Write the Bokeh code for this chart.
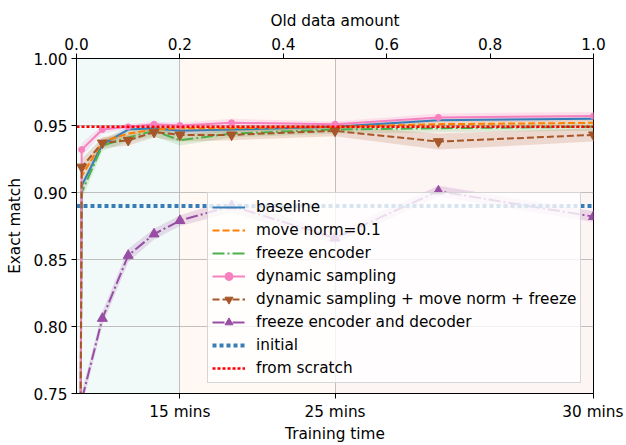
from bokeh.plotting import figure
from bokeh.models import (LinearAxis, FixedTicker, PrintfTickFormatter, BoxAnnotation,
                          Legend, LegendItem, Range1d)
from bokeh.embed import file_html
from bokeh.resources import INLINE

# ---------------- data ----------------
old_data = [0.0, 0.01, 0.05, 0.1, 0.15, 0.2, 0.3, 0.5, 0.7, 1.0]

baseline      = [0.0, 0.905, 0.936, 0.947, 0.948, 0.946, 0.947, 0.949, 0.954, 0.955]
move_norm     = [0.0, 0.912, 0.938, 0.944, 0.947, 0.948, 0.948, 0.949, 0.951, 0.952]
freeze_enc    = [0.0, 0.900, 0.935, 0.941, 0.946, 0.939, 0.944, 0.947, 0.948, 0.949]
dyn_sampling  = [0.0, 0.932, 0.947, 0.949, 0.951, 0.950, 0.952, 0.951, 0.956, 0.957]
dyn_mn_freeze = [0.0, 0.919, 0.937, 0.939, 0.945, 0.943, 0.943, 0.946, 0.938, 0.943]
freeze_enc_dec = [0.0, 0.745, 0.806, 0.853, 0.869, 0.879, 0.890, 0.866, 0.901, 0.882]

baseline_std      = [0.0, 0.004, 0.003, 0.002, 0.002, 0.003, 0.002, 0.002, 0.002, 0.002]
move_norm_std     = [0.0, 0.004, 0.003, 0.002, 0.002, 0.002, 0.002, 0.002, 0.002, 0.002]
freeze_enc_std    = [0.0, 0.005, 0.004, 0.003, 0.004, 0.004, 0.003, 0.003, 0.003, 0.003]
dyn_sampling_std  = [0.0, 0.005, 0.003, 0.002, 0.002, 0.002, 0.003, 0.002, 0.003, 0.003]
dyn_mn_freeze_std = [0.0, 0.006, 0.004, 0.004, 0.004, 0.005, 0.004, 0.004, 0.006, 0.005]
freeze_enc_dec_std = [0.0, 0.006, 0.005, 0.005, 0.004, 0.004, 0.005, 0.004, 0.004, 0.004]

initial = 0.890
from_scratch = 0.949

old_ticks = [0.0, 0.2, 0.4, 0.6, 0.8, 1.0]
time_ticks = [0.2, 0.5, 1.0]
time_labels = ["15 mins", "25 mins", "30 mins"]
y_ticks = [0.75, 0.80, 0.85, 0.90, 0.95, 1.00]

region_edges = [0.0, 0.2, 0.5, 1.0]
region_colors = ["#008080", "#ff7f0e", "#d62728"]

FONT = "DejaVu Sans"
FS = "15.3px"

p = figure(frame_width=517, frame_height=335,
           x_range=Range1d(0, 1), y_range=Range1d(0.75, 1.0),
           output_backend="svg", toolbar_location=None,
           min_border_left=76, min_border_right=30,
           min_border_top=58, min_border_bottom=50)
p.outline_line_color = "black"
p.outline_line_width = 1
p.background_fill_color = "white"
p.border_fill_color = "white"

# background regions
for i, c in enumerate(region_colors):
    p.add_layout(BoxAnnotation(left=region_edges[i], right=region_edges[i + 1],
                               fill_color=c, fill_alpha=0.05, line_color=None,
                               level="image"))

def style_axis(ax):
    ax.axis_label_text_font = FONT
    ax.axis_label_text_font_size = FS
    ax.axis_label_text_font_style = "normal"
    ax.axis_label_text_color = "black"
    ax.major_label_text_font = FONT
    ax.major_label_text_font_size = FS
    ax.major_label_text_color = "black"
    ax.major_tick_in = 0
    ax.major_tick_out = 5
    ax.minor_tick_in = 0
    ax.minor_tick_out = 0
    ax.axis_line_color = "black"
    ax.major_tick_line_color = "black"
    ax.major_label_standoff = 4
    ax.axis_label_standoff = 5

# bottom axis
bottom = p.below[0]
bottom.ticker = FixedTicker(ticks=time_ticks)
bottom.major_label_overrides = {t: l for t, l in zip(time_ticks, time_labels)}
bottom.axis_label = "Training time"
style_axis(bottom)
bottom.axis_label_standoff = 1

# left axis
left = p.left[0]
left.ticker = FixedTicker(ticks=y_ticks)
left.formatter = PrintfTickFormatter(format="%.2f")
left.axis_label = "Exact match"
style_axis(left)
left.axis_label_standoff = 6

# top axis
top = LinearAxis(ticker=FixedTicker(ticks=old_ticks),
                 formatter=PrintfTickFormatter(format="%.1f"),
                 axis_label="Old data amount")
style_axis(top)
p.add_layout(top, "above")

p.xgrid.ticker = bottom.ticker
p.ygrid.ticker = left.ticker
for g in (p.xgrid[0], p.ygrid[0]):
    g.grid_line_color = "#b0b0b0"
    g.grid_line_width = 0.8

series = [
    ("baseline", baseline, baseline_std, "#377eb8", "solid", None),
    ("move norm=0.1", move_norm, move_norm_std, "#ff7f00", "7 3", None),
    ("freeze encoder", freeze_enc, freeze_enc_std, "#4daf4a", "12 3 2 3", None),
    ("dynamic sampling", dyn_sampling, dyn_sampling_std, "#f781bf", "solid", "circle"),
    ("dynamic sampling + move norm + freeze", dyn_mn_freeze, dyn_mn_freeze_std, "#a65628", "7 3", "inverted_triangle"),
    ("freeze encoder and decoder", freeze_enc_dec, freeze_enc_dec_std, "#984ea3", "12 3 2 3", "triangle"),
]

# bands
for name, ys, sd, col, dash, mk in series:
    lo = [y - s for y, s in zip(ys, sd)]
    hi = [y + s for y, s in zip(ys, sd)]
    p.varea(x=old_data, y1=lo, y2=hi, fill_color=col, fill_alpha=0.18)

items = []
for name, ys, sd, col, dash, mk in series:
    r = [p.line(old_data, ys, line_color=col, line_width=2, line_dash=dash)]
    if mk is not None:
        size = 6 if mk == "circle" else 10
        r.append(p.scatter(old_data, ys, marker=mk, size=size,
                           fill_color=col, line_color=col))
    items.append(LegendItem(label=name, renderers=r))

span_x = [old_data[0], old_data[-1]]
r_init = p.line(span_x, [initial, initial], line_color="#377eb8", line_width=4, line_dash="4 3")
r_scr = p.line(span_x, [from_scratch, from_scratch], line_color="red", line_width=2.5, line_dash="3 2")
items.append(LegendItem(label="initial", renderers=[r_init]))
items.append(LegendItem(label="from scratch", renderers=[r_scr]))

legend = Legend(items=items, location=(131, 10), margin=0, padding=4,
                spacing=3, label_height=20, glyph_height=20, glyph_width=33,
                label_standoff=11,
                label_text_font=FONT, label_text_font_size=FS,
                label_text_color="black",
                background_fill_color="white", background_fill_alpha=0.8,
                border_line_color="#cccccc", border_line_alpha=0.8,
                border_line_width=1)
p.add_layout(legend)

open("out.html", "w").write(file_html(p, INLINE))
